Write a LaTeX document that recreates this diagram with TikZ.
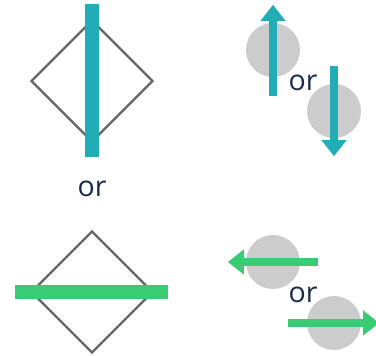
\documentclass[tikz,border=0pt]{standalone}
\usepackage{fontspec}
\setmainfont{Open Sans}
\usetikzlibrary{arrows.meta, shapes.geometric, positioning}

\definecolor{spinteal}{HTML}{22ACB6}
\definecolor{spingreen}{HTML}{3ACB75}
\definecolor{ballgray}{HTML}{CCCCCC}
\definecolor{edgegray}{HTML}{666666}
\definecolor{inkblue}{HTML}{1B2A4A}

\begin{document}
\begin{tikzpicture}[x=1pt,y=-1pt,on grid,node distance=61pt,
        gate/.style={diamond,draw=edgegray,line width=2.2pt,minimum width=122pt,minimum height=122pt,inner sep=0pt},
        ball/.style={circle,fill=ballgray,minimum size=54pt,inner sep=0pt},
        word/.style={text=inkblue,font=\fontsize{28.5}{32}\selectfont,inner sep=0pt},
        bar/.style={line width=13.4pt},
        spin/.style={line width=8pt,-{Triangle[width=24pt,length=16pt]}}]
        \path[use as bounding box, clip] (0,0) rectangle (376,356);

        % left: polariser bars
        \node[gate]   (d1)   at (92,81)     {};
        \node[word]   (or1)  at (92,188.5)  {or};
        \node[gate]   (d2)   at (92,292)    {};
        \draw[bar,spinteal]  ([yshift=15pt]d1.north) -- ([yshift=-14pt]d1.south);
        \draw[bar,spingreen] ([xshift=-15pt]d2.west) -- ([xshift=14pt]d2.east);

        % right: spin up / down
        \node[ball]   (b1)   at (273,50)    {};
        \node[ball]   (b2)   [below right=61pt and 61pt of b1] {};
        \node[word]   (or2)  at (303,83)    {or};
        \draw[spin,spinteal] ([yshift=-19pt]b1.south) -- ([yshift=18pt]b1.north);
        \draw[spin,spinteal] ([yshift=18pt]b2.north) -- ([yshift=-18pt]b2.south);

        % right: spin left / right
        \node[ball]   (b3)   at (273,262)   {};
        \node[ball]   (b4)   [below right=61pt and 61pt of b3] {};
        \node[word]   (or3)  at (303,295)   {or};
        \draw[spin,spingreen] ([xshift=18pt]b3.east) -- ([xshift=-18pt]b3.west);
        \draw[spin,spingreen] ([xshift=-19pt]b4.west) -- ([xshift=18pt]b4.east);
    \end{tikzpicture}
\end{document}
